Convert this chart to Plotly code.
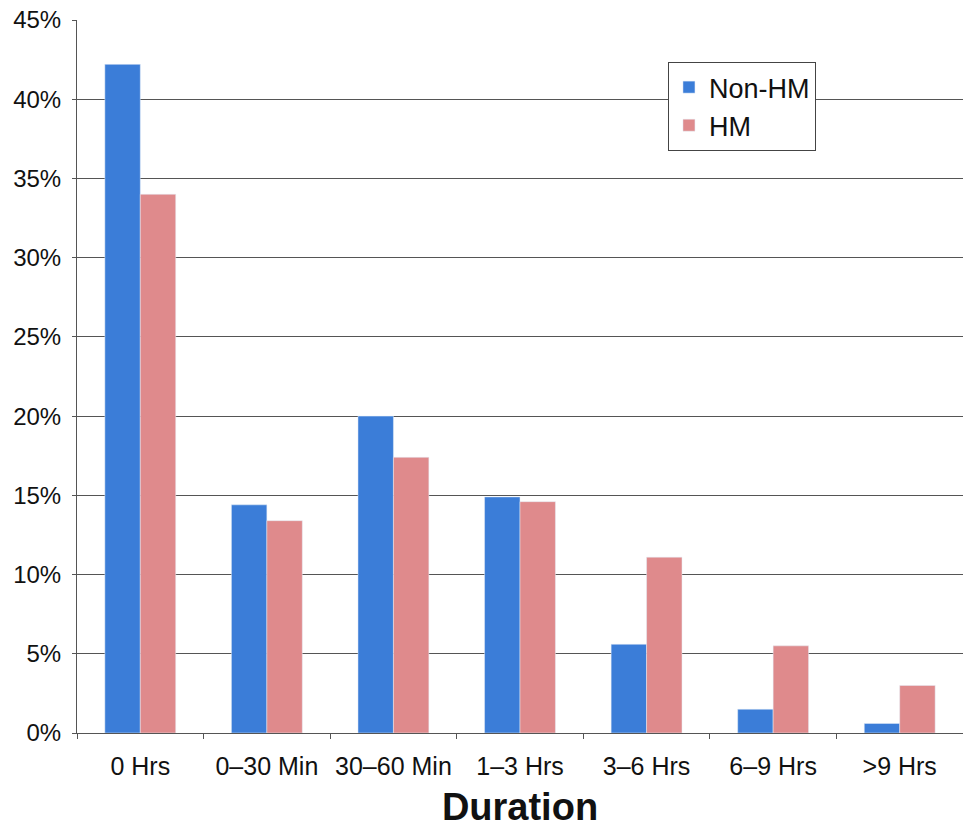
import plotly.graph_objects as go

categories = ["0 Hrs", "0–30 Min", "30–60 Min", "1–3 Hrs", "3–6 Hrs", "6–9 Hrs", ">9 Hrs"]
non_hm = [42.2, 14.4, 20.0, 14.9, 5.6, 1.5, 0.6]
hm = [34.0, 13.4, 17.4, 14.6, 11.1, 5.5, 3.0]
y_ticks = [0, 5, 10, 15, 20, 25, 30, 35, 40, 45]
y_tick_labels = [f"{v}%" for v in y_ticks]

fig = go.Figure()
fig.add_trace(go.Bar(name="Non-HM", x=categories, y=non_hm, marker_color="#3b7dd8"))
fig.add_trace(go.Bar(name="HM", x=categories, y=hm, marker_color="#df8a8c"))

fig.update_layout(
    width=963, height=829,
    margin=dict(l=77, r=0, t=20, b=96),
    paper_bgcolor="white", plot_bgcolor="white",
    barmode="group", bargap=0.44, bargroupgap=0,
    font=dict(family="Liberation Sans, Arial, sans-serif", color="#111"),
    legend=dict(
        x=0.667, y=0.941, xanchor="left", yanchor="top",
        bordercolor="#444", borderwidth=1, bgcolor="white",
        font=dict(size=27), tracegroupgap=6,
    ),
    showlegend=True,
)
fig.update_yaxes(
    range=[0, 45], tickvals=y_ticks, ticktext=y_tick_labels,
    showgrid=True, gridcolor="#555", gridwidth=1,
    showline=True, linecolor="#555", linewidth=1,
    ticks="outside", ticklen=4, tickcolor="#555",
    tickfont=dict(size=24), zeroline=False, ticklabelstandoff=6,
    automargin=False,
)
fig.update_xaxes(
    showline=True, linecolor="#555", linewidth=1,
    ticks="outside", tickson="boundaries", ticklen=5, tickcolor="#555",
    tickfont=dict(size=25), ticklabelstandoff=11,
    title=dict(text="<b>Duration</b>", font=dict(size=38), standoff=14),
    automargin=False,
)
fig.write_html("out.html")
